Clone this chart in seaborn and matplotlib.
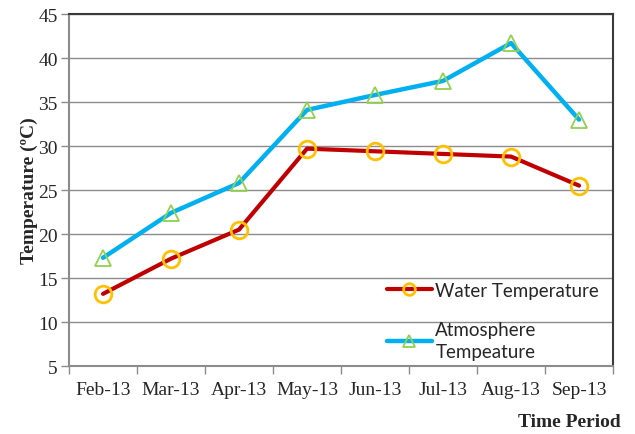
import pandas as pd
import matplotlib
matplotlib.use("Agg")
import matplotlib.pyplot as plt
import seaborn as sns

months = ["Feb-13", "Mar-13", "Apr-13", "May-13", "Jun-13", "Jul-13", "Aug-13", "Sep-13"]
water_temp = [13.2, 17.2, 20.5, 29.7, 29.4, 29.1, 28.8, 25.5]
atmos_temp = [17.3, 22.4, 25.8, 34.1, 35.8, 37.4, 41.7, 33.0]

sns.set_style("white")
plt.rcParams['font.family'] = ['Liberation Serif', 'DejaVu Serif']

df = pd.DataFrame({"Month": months, "Water": water_temp, "Atmos": atmos_temp})

fig = plt.figure(figsize=(6.35, 4.35), dpi=100)
ax = fig.add_axes([0.1087, 0.1563, 0.8567, 0.8092])

sns.lineplot(data=df, x="Month", y="Water", ax=ax, color="#C00000", linewidth=3,
             marker="o", markersize=12, markerfacecolor="none",
             markeredgecolor="#FFC000", markeredgewidth=2, label="Water Temperature")
sns.lineplot(data=df, x="Month", y="Atmos", ax=ax, color="#00B0F0", linewidth=3.2,
             marker="^", markersize=12, markerfacecolor="none",
             markeredgecolor="#92D050", markeredgewidth=1.3, label="Atmosphere\nTempeature")

ax.set_ylim(5, 45)
ax.set_xlim(-0.5, len(months) - 0.5)
ax.set_yticks(range(5, 46, 5))
ax.yaxis.grid(True, color="#8c8c8c", linewidth=1)
ax.set_axisbelow(True)

# labels at category centres, tick marks at category boundaries
ax.set_xticks([i - 0.5 for i in range(len(months) + 1)])
ax.set_xticklabels([])
ax.set_xticks(range(len(months)), minor=True)
ax.set_xticklabels(months, minor=True)
ax.tick_params(axis="x", which="major", length=6, width=1, color="#8c8c8c", direction="out", bottom=True)
ax.tick_params(axis="x", which="minor", length=0, pad=11, labelsize=14)
ax.tick_params(axis="y", length=6, width=1, color="#8c8c8c", direction="out", left=True, labelsize=14, pad=2)

for side in ["left", "bottom"]:
    ax.spines[side].set_color("#8c8c8c")
    ax.spines[side].set_linewidth(1.5)
for side in ["top", "right"]:
    ax.spines[side].set_color("#3a3a3a")
    ax.spines[side].set_linewidth(1.5)

ax.set_xlabel("")
ax.set_ylabel("Temperature (ºC)", fontsize=14, fontweight="bold", labelpad=0)

leg = ax.legend(loc="upper left", bbox_to_anchor=(0.57, 0.26), frameon=False,
                prop={"family": "Lato", "size": 13.5}, handlelength=2.4, markerscale=0.7,
                handletextpad=0.2, labelspacing=1.2, borderaxespad=0)
for t in leg.get_texts():
    t.set_linespacing(1.3)

fig.text(0.978, 0.028, "Time Period", ha="right", va="center", fontsize=14, fontweight="bold")

fig.savefig("out.png", dpi=100)
